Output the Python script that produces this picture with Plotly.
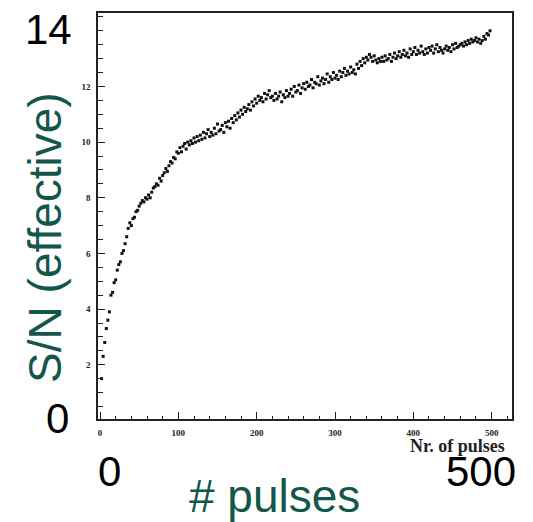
import plotly.graph_objects as go

# ---- data ----
pulses = list(range(2, 500, 2))
sn_effective = [
    1.5, 2.3, 2.8, 3.3, 3.6, 3.9, 4.5, 4.6, 4.95, 5.05,
    5.4, 5.6, 5.7, 6.0, 6.1, 6.35, 6.6, 6.9, 7.1, 7.0,
    7.25, 7.3, 7.5, 7.55, 7.7, 7.8, 7.9, 7.85, 8.0, 7.95,
    8.1, 8.0, 8.2, 8.35, 8.4, 8.5, 8.45, 8.7, 8.6, 8.8,
    8.9, 9.05, 8.95, 9.15, 9.3, 9.25, 9.45, 9.4, 9.65, 9.6,
    9.8, 9.65, 9.85, 9.95, 9.75, 10.0, 9.9, 10.05, 9.95, 10.15,
    10.0, 10.2, 10.05, 10.25, 10.1, 10.35, 10.15, 10.3, 10.45, 10.2,
    10.35, 10.25, 10.5, 10.3, 10.65, 10.4, 10.45, 10.6, 10.35, 10.7,
    10.55, 10.75, 10.5, 10.85, 10.7, 10.95, 10.8, 11.05, 10.9, 11.15,
    11.0, 11.25, 11.1, 11.2, 11.35, 11.15, 11.45, 11.3, 11.55, 11.4,
    11.65, 11.5, 11.6, 11.45, 11.75, 11.55, 11.7, 11.85, 11.6, 11.65,
    11.5, 11.75, 11.55, 11.65, 11.8, 11.45, 11.7, 11.6, 11.85, 11.65,
    11.75, 11.9, 11.65, 12.0, 11.8, 11.85, 12.05, 11.75, 11.95, 12.1,
    11.9, 12.15, 12.0, 12.05, 12.25, 11.95, 12.15, 12.1, 12.35, 12.05,
    12.2, 12.3, 12.1, 12.25, 12.45, 12.15, 12.35, 12.25, 12.5, 12.3,
    12.4, 12.25, 12.55, 12.35, 12.5, 12.65, 12.4, 12.55, 12.45, 12.7,
    12.5, 12.6, 12.45, 12.8, 12.65, 12.9, 12.75, 13.0, 12.85, 13.05,
    12.95, 13.15, 13.05, 12.9, 13.1, 12.95, 12.85, 13.0, 12.9, 13.05,
    12.9, 13.1, 12.95, 13.0, 13.15, 12.9, 13.05, 13.2, 13.0, 13.1,
    13.25, 13.05, 13.15, 13.3, 13.1, 13.2, 13.05, 13.35, 13.15, 13.25,
    13.4, 13.15, 13.3, 13.2, 13.45, 13.25, 13.15, 13.35, 13.2, 13.4,
    13.3, 13.45, 13.2, 13.35, 13.5, 13.25, 13.4, 13.3, 13.2, 13.35,
    13.45, 13.3, 13.4, 13.25, 13.5, 13.35, 13.55, 13.4, 13.45, 13.5,
    13.55, 13.45, 13.6, 13.5, 13.65, 13.55, 13.7, 13.6, 13.65, 13.75,
    13.6, 13.7, 13.55, 13.65, 13.8, 13.7, 13.9, 13.85, 14.0,
]
x_ticks = [0, 100, 200, 300, 400, 500]
y_ticks = [2, 4, 6, 8, 10, 12]

W, H = 533, 522
L, R, T, B = 98, 21, 11, 103
PW, PH = W - L - R, H - T - B


def px(x):
    return (x - L) / PW


def py(y):
    return (H - B - y) / PH


fig = go.Figure()
fig.add_trace(go.Scatter(
    x=pulses, y=sn_effective, mode="markers",
    marker=dict(color="#111111", size=3, symbol="square"),
    showlegend=False, hoverinfo="x+y",
))

tickfont = dict(family="Liberation Serif", size=9, color="#222222", weight="bold")
fig.update_xaxes(
    range=[-2.6, 526], tickvals=x_ticks, ticktext=[str(v) for v in x_ticks],
    ticks="inside", ticklen=7, tickwidth=1.2, tickcolor="#222222",
    minor=dict(dtick=20, ticks="inside", ticklen=3, tickcolor="#222222", tickwidth=1),
    showline=True, linecolor="#222222", linewidth=1.5, mirror=True,
    showgrid=False, zeroline=False, tickfont=tickfont, ticklabelstandoff=4,
)
fig.update_yaxes(
    range=[0.05, 14.64], tickvals=y_ticks, ticktext=[str(v) for v in y_ticks],
    ticks="inside", ticklen=7, tickwidth=1.2, tickcolor="#222222",
    minor=dict(dtick=0.5, ticks="inside", ticklen=5, tickcolor="#222222", tickwidth=1),
    showline=True, linecolor="#222222", linewidth=1.5, mirror=True,
    showgrid=False, zeroline=False, tickfont=tickfont, ticklabelstandoff=4,
)

big = dict(family="Arial, Liberation Sans", size=42, color="#000000")
green = dict(family="Arial, Liberation Sans", size=46, color="#12574A")
annotations = [
    dict(text="14", x=px(48), y=py(28), font=big),
    dict(text="0", x=px(57), y=py(418), font=big),
    dict(text="0", x=px(109), y=py(472), font=big),
    dict(text="500", x=px(481), y=py(472), font=big),
    dict(text="# pulses", x=px(274), y=py(496), font=green),
    dict(text="S/N (effective)", x=px(45), y=py(237), font=green, textangle=-90),
    dict(text="<b>Nr. of pulses</b>", x=px(457), y=py(446),
         font=dict(family="Liberation Serif", size=18, color="#222222")),
]
for a in annotations:
    a.update(xref="paper", yref="paper", showarrow=False,
             xanchor="center", yanchor="middle")
fig.update_layout(
    width=W, height=H, margin=dict(l=L, r=R, t=T, b=B),
    paper_bgcolor="white", plot_bgcolor="white",
    annotations=annotations,
)
fig.write_html("out.html")
